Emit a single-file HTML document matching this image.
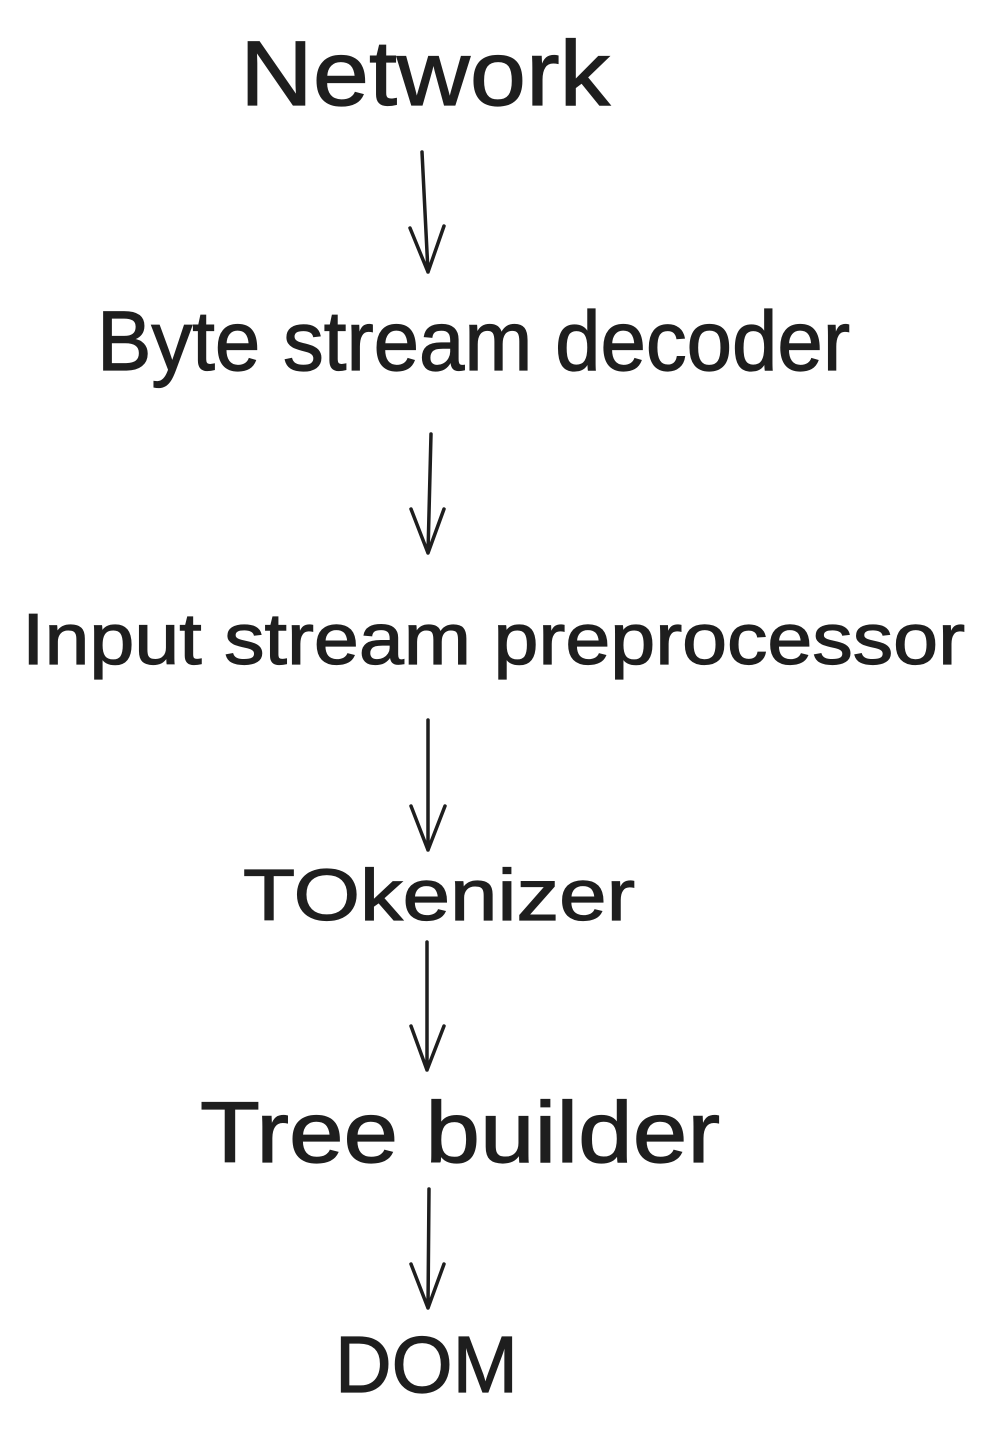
<!DOCTYPE html>
<html><head><meta charset="utf-8"><style>html,body{margin:0;padding:0;background:#fff}svg{display:block}</style></head>
<body>
<svg width="987" height="1439" viewBox="0 0 987 1439" xmlns="http://www.w3.org/2000/svg">
<g font-family="Liberation Sans, sans-serif" fill="#1e1e1e" stroke="#1e1e1e" stroke-width="1.2">
<text x="240" y="105" font-size="92" textLength="370" lengthAdjust="spacingAndGlyphs">Network</text>
<text x="97" y="370" font-size="84" textLength="753" lengthAdjust="spacingAndGlyphs">Byte stream decoder</text>
<text x="22" y="664" font-size="72" textLength="943" lengthAdjust="spacingAndGlyphs">Input stream preprocessor</text>
<text x="243" y="920" font-size="72" textLength="392" lengthAdjust="spacingAndGlyphs">TOkenizer</text>
<text x="200" y="1162" font-size="86" textLength="520" lengthAdjust="spacingAndGlyphs">Tree builder</text>
<text x="335" y="1392" font-size="80" textLength="183" lengthAdjust="spacingAndGlyphs">DOM</text>
</g>
<g fill="none" stroke="#1e1e1e" stroke-width="3.5" stroke-linecap="round" stroke-linejoin="round">
<path d="M422 152 L428 272 M410 228 L428 272 L444 226"/>
<path d="M431 434 L428 553 M411 509 L428 553 L444 509"/>
<path d="M428 720 L428 850 M411 806 L428 850 L445 806"/>
<path d="M427 942 L427 1070 M411 1026 L427 1070 L444 1026"/>
<path d="M429 1189 L428 1308 M411 1264 L428 1308 L444 1264"/>
</g>
</svg>
</body></html>
